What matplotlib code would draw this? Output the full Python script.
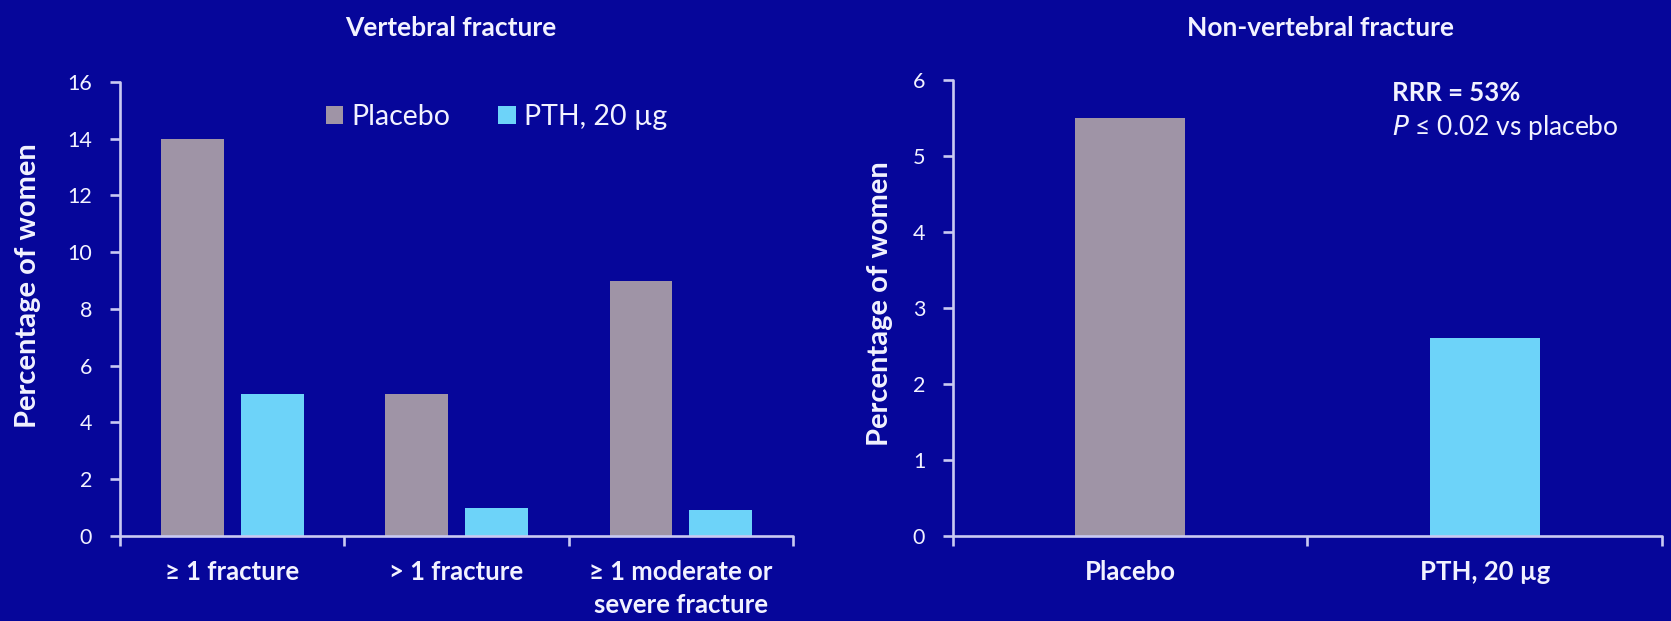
import matplotlib
matplotlib.use("Agg")
import matplotlib.pyplot as plt
from matplotlib.patches import Patch
import numpy as np

plt.rcParams['font.family'] = ['Lato', 'DejaVu Sans']

# Vertebral fracture data
vert_categories = ["\u2265 1 fracture", "> 1 fracture", "\u2265 1 moderate or\nsevere fracture"]
vert_placebo = [14, 5, 9]
vert_pth = [5, 1, 0.9]
vert_yticks = [0, 2, 4, 6, 8, 10, 12, 14, 16]

# Non-vertebral fracture data
nonvert_categories = ["Placebo", "PTH, 20 \u00b5g"]
nonvert_values = [5.5, 2.6]
nonvert_yticks = [0, 1, 2, 3, 4, 5, 6]

series_names = ["Placebo", "PTH, 20 \u00b5g"]

BG = "#06069a"
PLACEBO_C = "#9f94a6"
PTH_C = "#6dd3f9"
AXIS_C = "#c9c9f2"
TEXT_C = "#f2f2ff"

TICK_FS = 15.5
CAT_FS = 18.5
YLAB_FS = 21
TITLE_FS = 19

fig = plt.figure(figsize=(16.71, 6.21), dpi=100, facecolor=BG)

ax1 = fig.add_axes([0.0718, 0.1369, 0.4028, 0.7311])
ax2 = fig.add_axes([0.5703, 0.1369, 0.4243, 0.7343])


def style_axes(ax, ncat, yticks):
    ax.set_facecolor(BG)
    for s in ("top", "right"):
        ax.spines[s].set_visible(False)
    for s in ("left", "bottom"):
        ax.spines[s].set_color(AXIS_C)
        ax.spines[s].set_linewidth(1.9)
        ax.spines[s].set_capstyle("round")
    ax.set_xlim(-0.5, ncat - 0.5)
    ax.set_ylim(yticks[0], yticks[-1])
    ax.set_yticks(yticks)
    ax.set_yticklabels([str(t) for t in yticks])
    # category boundary ticks, labels on minor ticks at the centres
    ax.set_xticks(np.arange(ncat + 1) - 0.5)
    ax.set_xticklabels([])
    ax.tick_params(axis="x", which="major", direction="out", length=7,
                   width=1.9, color=AXIS_C)
    ax.tick_params(axis="y", which="major", direction="out", length=7,
                   width=1.9, color=AXIS_C, labelcolor=TEXT_C,
                   labelsize=TICK_FS, pad=13)


# Left panel
x = np.arange(len(vert_categories))
bw = 0.28
off = 0.178
style_axes(ax1, len(vert_categories), vert_yticks)
ax1.bar(x - off, vert_placebo, width=bw, color=PLACEBO_C, zorder=2)
ax1.bar(x + off, vert_pth, width=bw, color=PTH_C, zorder=2)
ax1.set_xticks(x, minor=True)
ax1.set_xticklabels(vert_categories, minor=True, fontweight="bold",
                    fontsize=CAT_FS, color=TEXT_C, linespacing=1.45, va="top")
ax1.tick_params(axis="x", which="minor", length=0, pad=17)
ax1.set_ylabel("Percentage of women", fontsize=YLAB_FS, fontweight="bold",
               color=TEXT_C, va="center")
ax1.yaxis.set_label_coords(-0.137, 0.552)
ax1.set_title("Vertebral fracture", fontsize=TITLE_FS, fontweight="bold",
              color=TEXT_C, x=0.492, y=1.118, va="center", pad=0)

handles = [Patch(facecolor=PLACEBO_C, edgecolor="none"),
           Patch(facecolor=PTH_C, edgecolor="none")]
fig.legend(handles, series_names, loc="center left",
           bbox_to_anchor=(0.1951, 0.8116), ncol=2, frameon=False,
           fontsize=20.5, handlelength=0.6, handleheight=0.6,
           handletextpad=0.28, columnspacing=1.7, borderpad=0,
           borderaxespad=0, labelcolor=TEXT_C)

# Right panel
x2 = np.arange(len(nonvert_categories))
style_axes(ax2, len(nonvert_categories), nonvert_yticks)
ax2.bar(x2, nonvert_values, width=0.31, color=[PLACEBO_C, PTH_C], zorder=2)
ax2.set_xticks(x2, minor=True)
ax2.set_xticklabels(nonvert_categories, minor=True, fontweight="bold",
                    fontsize=CAT_FS, color=TEXT_C, va="top")
ax2.tick_params(axis="x", which="minor", length=0, pad=17)
ax2.set_ylabel("Percentage of women", fontsize=YLAB_FS, fontweight="bold",
               color=TEXT_C, va="center")
ax2.yaxis.set_label_coords(-0.103, 0.509)
ax2.set_title("Non-vertebral fracture", fontsize=TITLE_FS, fontweight="bold",
              color=TEXT_C, x=0.519, y=1.113, va="center", pad=0)

ax2.text(0.619, 0.954, "RRR = 53%", transform=ax2.transAxes,
         fontsize=18.5, fontweight="bold", color=TEXT_C,
         va="baseline", ha="left")
ax2.text(0.619, 0.879, "$\\it{P}$ \u2264 0.02 vs placebo",
         transform=ax2.transAxes, fontsize=19, color=TEXT_C,
         va="baseline", ha="left")

fig.savefig("out.png", dpi=100, facecolor=BG)
